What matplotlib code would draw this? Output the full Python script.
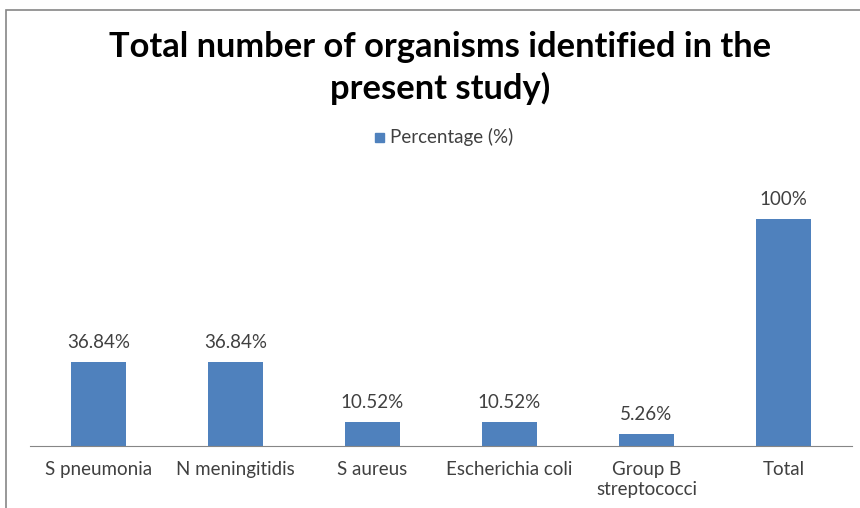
import matplotlib.pyplot as plt
from matplotlib.patches import Rectangle

# Datos
organismos = ['S pneumonia', 'N meningitidis', 'S aureus', 'Escherichia coli',
              'Group B\nstreptococci', 'Total']
porcentaje = [36.84, 36.84, 10.52, 10.52, 5.26, 100]
etiquetas = ['36.84%', '36.84%', '10.52%', '10.52%', '5.26%', '100%']

W, H = 860, 508
fig = plt.figure(figsize=(W / 100, H / 100), dpi=100)
plt.rcParams['font.family'] = ['Lato', 'DejaVu Sans']

# marco del grafico
fig.patches.append(Rectangle((5.5 / W, -0.1), 1.2, (H - 10.5) / H + 0.1,
                             transform=fig.transFigure, fill=False,
                             edgecolor='#868686', linewidth=1.2))

ax = fig.add_axes([30 / W, (H - 446) / H, 822 / W, 272 / H])
x = range(len(organismos))
ax.bar(x, porcentaje, width=0.4, color='#4F81BD')
ax.set_xlim(-0.5, len(organismos) - 0.5)
ax.set_ylim(0, 120)

for xi, v, t in zip(x, porcentaje, etiquetas):
    ax.text(xi, v + 5, t, ha='center', va='bottom', fontsize=13.5, color='#404040')

ax.set_xticks(list(x))
ax.set_xticklabels(organismos, fontsize=13.5, color='#404040', linespacing=1.2)
ax.tick_params(axis='x', length=0, pad=11)
ax.set_yticks([])
for s in ['top', 'right', 'left']:
    ax.spines[s].set_visible(False)
ax.spines['bottom'].set_color('#868686')

fig.text(0.512, 1 - 47 / H, 'Total number of organisms identified in the',
         ha='center', va='center', fontsize=24.8, fontweight='bold')
fig.text(0.512, 1 - 88 / H, 'present study)',
         ha='center', va='center', fontsize=24.8, fontweight='bold')

# leyenda
fig.patches.append(Rectangle((375 / W, 1 - 142 / H), 9 / W, 9 / H,
                             transform=fig.transFigure, color='#4F81BD'))
fig.text(390 / W, 1 - 137 / H, 'Percentage (%)', ha='left', va='center',
         fontsize=13.5, color='#404040')

fig.savefig('out.png', dpi=100)
